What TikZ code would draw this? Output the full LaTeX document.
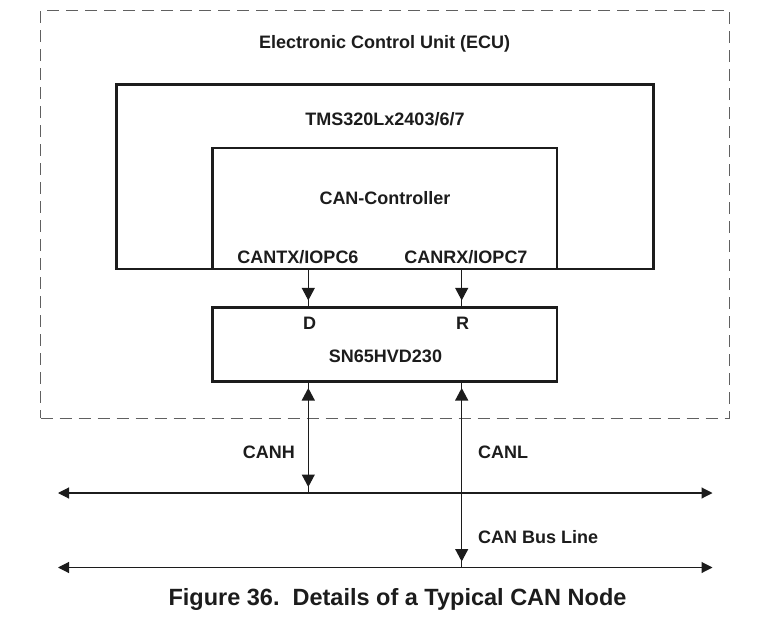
\documentclass[tikz,border=0pt]{standalone}
\usepackage{fontspec}
\setmainfont{Liberation Sans}
\usepackage{tikz}
\usepackage{xcolor}
\usetikzlibrary{positioning,arrows.meta}

\definecolor{ink}{HTML}{1C1C1C}
\definecolor{frame}{HTML}{606060}

\begin{document}
\begin{tikzpicture}[x=1pt, y=-1pt, color=ink,
    box/.style={rectangle, draw, line width=2.6pt, inner sep=0pt},
    lbl/.style={font=\fontsize{18}{20}\selectfont\bfseries, inner sep=0pt},
    tip/.style={-{Triangle[length=12.5pt,width=13pt]}},
    pin/.style={line width=1.1pt, postaction={draw, tip, shorten >=6pt}},
    link/.style={line width=1.1pt, postaction={draw, {Triangle[length=12.5pt,width=13pt]}-{Triangle[length=12.5pt,width=13pt]}, shorten >=6pt, shorten <=5pt}},
    bus/.style={line width=1.1pt, {Triangle[length=11pt,width=11pt]}-{Triangle[length=11pt,width=11pt]}}]
  \useasboundingbox (0,0) rectangle (769,629);

  % ECU frame
  \node[rectangle, draw=frame, dash pattern=on 12pt off 7pt, line width=0.9pt, minimum width=689pt, minimum height=407.5pt] (ecu) at (385,214.25) {};
  \node[lbl] (ecutitle) at (384.5,44) {Electronic Control Unit (ECU)};

  % DSP with its CAN module
  \node[box, minimum width=537pt, minimum height=184.5pt] (dsp) at (385.2,176.75) {};
  \node[box, minimum width=344.5pt, minimum height=121pt] (canctl) at (384.75,208.5) {};
  \node[lbl] (dsptitle) at (385,119) {TMS320Lx2403/6/7};
  \node[lbl] (ctltitle) at (385,198) {CAN-Controller};
  \node[lbl] (txpin) at (298,257) {CANTX/IOPC6};
  \node[lbl] (rxpin) at (466,257) {CANRX/IOPC7};

  % transceiver
  \node[box, minimum width=344.3pt, minimum height=74pt] (xcvr) at (384.85,344.7) {};
  \node[lbl] (dpin) at (309.5,323) {D};
  \node[lbl] (rpin) at (462.5,323) {R};
  \node[lbl] (xcvrtitle) at (385.5,356) {SN65HVD230};

  % pin taps
  \coordinate (dtap) at (308.3,269);
  \coordinate (rtap) at (461.7,269);
  \draw[pin] (dtap) -- (dtap |- xcvr.north);
  \draw[pin] (rtap) -- (rtap |- xcvr.north);

  % bus wires
  \coordinate (canhW) at (58,493);
  \coordinate (canhE) at (712.5,493);
  \coordinate (canlW) at (58,567.5);
  \coordinate (canlE) at (712.5,567.5);
  \draw[bus] (canhW) -- (canhE);
  \draw[bus] (canlW) -- (canlE);

  \draw[link] (dtap |- xcvr.south) -- (dtap |- canhW);
  \draw[link] (rtap |- xcvr.south) -- (rtap |- canlW);
  \node[lbl, anchor=east] (canh) at (295,452) {CANH};
  \node[lbl, anchor=west] (canl) at (478,452) {CANL};
  \node[lbl, anchor=west] (busname) at (478,537) {CAN Bus Line};

  % caption
  \node[font=\fontsize{23.5}{26}\selectfont\bfseries, inner sep=0pt] (caption) at (397.5,599) {Figure 36.\ \ Details of a Typical CAN Node};
\end{tikzpicture}
\end{document}
